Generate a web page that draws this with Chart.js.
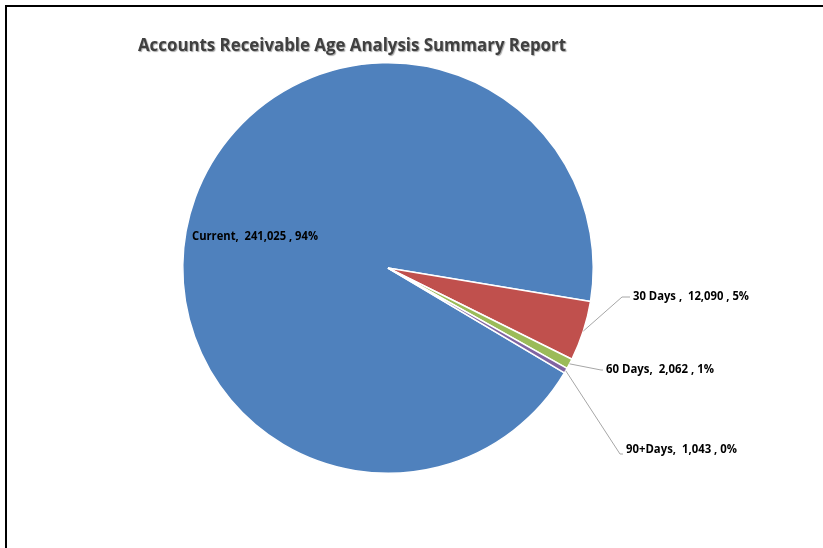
<!DOCTYPE html>
<html>
<head>
<meta charset="utf-8">
<script src="https://cdn.jsdelivr.net/npm/chart.js@4/dist/chart.umd.min.js"></script>
<style>
html,body{margin:0;padding:0;background:#fff;}
#wrap{position:relative;width:823px;height:548px;overflow:hidden;}
#frame{position:absolute;left:5px;top:5px;width:900px;height:700px;border:2px solid #000;box-sizing:border-box;}
canvas{position:absolute;left:0;top:0;}
</style>
</head>
<body>
<div id="wrap">
<div id="frame"></div>
<canvas id="c" width="823" height="548"></canvas>
</div>
<script>
const titleText = "Accounts Receivable Age Analysis Summary Report";
const categories = ["Current", "30 Days", "60 Days", "90+Days"];
const amounts = [241025, 12090, 2062, 1043];
const percentLabels = ["94%", "5%", "1%", "0%"];
const amountLabels = ["241,025", "12,090", "2,062", "1,043"];
const labelTexts = ["Current,  241,025 , 94%", "30 Days ,  12,090 , 5%", "60 Days,  2,062 , 1%", "90+Days,  1,043 , 0%"];
const colors = ["#4F81BD", "#C0504D", "#9BBB59", "#8064A2"];

// label placement (pixels) – presentation only
const labelPos = [
  {x:192, y:237, w:126, inside:true},
  {x:633, y:297, w:116, elbow:{x:622, y:297}},
  {x:606, y:370, w:108, elbow:{x:601, y:370}},
  {x:626, y:450, w:111, elbow:{x:620, y:454}}
];

const labelPlugin = {
  id: 'labels',
  afterDraw(chart){
    const ctx = chart.ctx;
    ctx.save();
    ctx.font = "bold 18px 'Open Sans', sans-serif";
    ctx.textBaseline = 'middle';
    ctx.textAlign = 'left';
    ctx.shadowColor = 'rgba(0,0,0,0.35)';
    ctx.shadowOffsetX = 1; ctx.shadowOffsetY = 1; ctx.shadowBlur = 1;
    ctx.fillStyle = '#404040';
    const tw = ctx.measureText(titleText).width;
    ctx.save();
    ctx.translate(138, 46);
    ctx.scale(428 / tw, 1);
    ctx.fillText(titleText, 0, 0);
    ctx.restore();
    ctx.restore();

    const meta = chart.getDatasetMeta(0);
    ctx.save();
    ctx.font = "bold 12px 'Open Sans', sans-serif";
    ctx.textBaseline = 'middle';
    meta.data.forEach((arc, i) => {
      const p = labelPos[i];
      if (!p.inside) {
        const mid = (arc.startAngle + arc.endAngle) / 2;
        const sx = arc.x + Math.cos(mid) * arc.outerRadius;
        const sy = arc.y + Math.sin(mid) * arc.outerRadius;
        ctx.strokeStyle = '#A6A6A6';
        ctx.lineWidth = 1;
        ctx.beginPath();
        ctx.moveTo(sx, sy);
        ctx.lineTo(p.elbow.x, p.elbow.y);
        ctx.lineTo(p.x - 3, p.elbow.y);
        ctx.stroke();
      }
      ctx.fillStyle = '#000';
      const t = labelTexts[i];
      const w = ctx.measureText(t).width;
      ctx.save();
      ctx.translate(p.x, p.y);
      ctx.scale(p.w / w, 1);
      ctx.fillText(t, 0, 0);
      ctx.restore();
    });
    ctx.restore();
  }
};

new Chart(document.getElementById('c'), {
  type: 'pie',
  data: {
    labels: categories,
    datasets: [{
      data: amounts,
      backgroundColor: colors,
      borderColor: '#FFFFFF',
      borderWidth: 1.5
    }]
  },
  options: {
    responsive: false,
    animation: false,
    rotation: 120.75,
    layout: { padding: { top: 62, bottom: 74, left: 182, right: 229 } },
    plugins: {
      legend: { display: false },
      tooltip: { enabled: false },
      title: { display: false }
    }
  },
  plugins: [labelPlugin]
});
</script>
</body>
</html>
